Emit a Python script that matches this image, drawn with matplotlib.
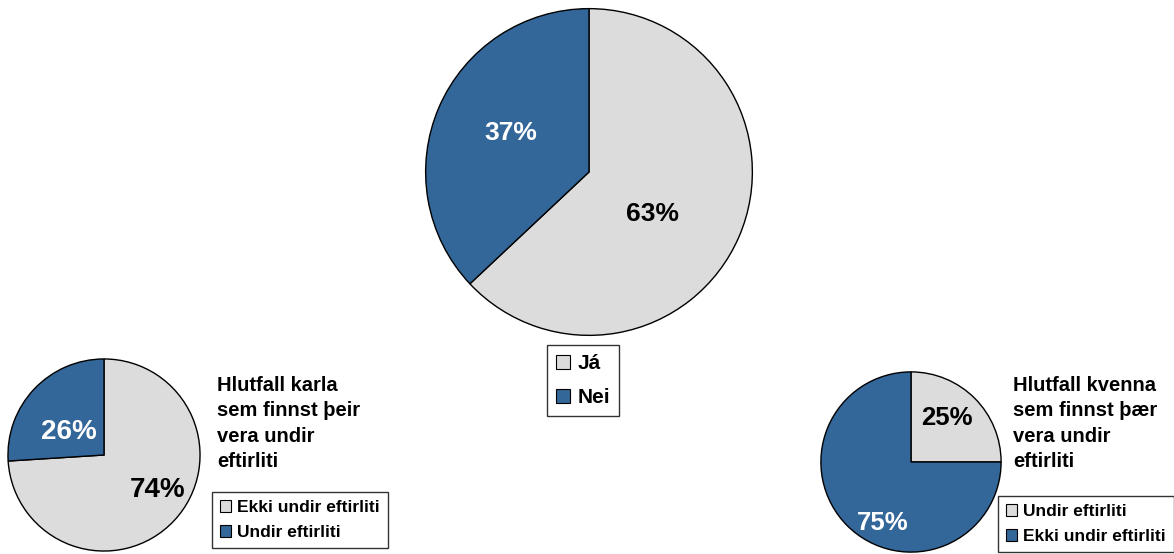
import matplotlib
matplotlib.use("Agg")
import matplotlib.pyplot as plt
from matplotlib.patches import Patch

plt.rcParams["font.family"] = ["Liberation Sans", "DejaVu Sans"]
plt.rcParams["font.weight"] = "bold"

# data
main_labels = ["Já", "Nei"]
main_values = [63, 37]

men_labels = ["Ekki undir eftirliti", "Undir eftirliti"]
men_values = [74, 26]
men_title = "Hlutfall karla\nsem finnst þeir\nvera undir\neftirliti"

women_labels = ["Undir eftirliti", "Ekki undir eftirliti"]
women_values = [25, 75]
women_title = "Hlutfall kvenna\nsem finnst þær\nvera undir\neftirliti"

GRAY = "#DCDCDC"
BLUE = "#336699"

W, H = 1174, 554
fig = plt.figure(figsize=(W / 100, H / 100), dpi=100)


def pie_axes(cx, cy, r):
    # center/radius in pixels, y from top
    return fig.add_axes([(cx - r) / W, 1 - (cy + r) / H, 2 * r / W, 2 * r / H])


def draw_pie(ax, values, colors, text_colors, fontsize):
    wedges, _, autotexts = ax.pie(
        values, colors=colors, startangle=90, counterclock=False,
        autopct="%d%%", pctdistance=0.5,
        wedgeprops=dict(edgecolor="black", linewidth=1),
        textprops=dict(fontsize=fontsize, fontweight="bold"),
    )
    for t, c in zip(autotexts, text_colors):
        t.set_color(c)
    ax.set_xlim(-1.01, 1.01)
    ax.set_ylim(-1.01, 1.01)
    ax.set_aspect("equal")
    return wedges, autotexts


def add_legend(labels, colors, x, y, fontsize, spacing):
    handles = [Patch(facecolor=c, edgecolor="black", linewidth=0.8) for c in colors]
    leg = fig.legend(handles, labels, loc="upper left", bbox_to_anchor=(x / W, 1 - y / H),
                     frameon=True, fancybox=False, fontsize=fontsize,
                     handlelength=0.65, handleheight=0.65, handletextpad=0.35,
                     borderpad=0.45, labelspacing=spacing, borderaxespad=0)
    leg.get_frame().set_edgecolor("black")
    leg.get_frame().set_linewidth(1)
    for t in leg.get_texts():
        t.set_fontweight("bold")
    return leg


# main pie
ax = pie_axes(589, 172, 165)
w, at = draw_pie(ax, main_values, [GRAY, BLUE], ["black", "white"], 19)
at[0].set_position((0.39, -0.26))
at[1].set_position((-0.48, 0.24))
add_legend(main_labels, [GRAY, BLUE], 547, 345, 15, 0.7)

# men
ax = pie_axes(104, 455, 97)
w, at = draw_pie(ax, men_values, [GRAY, BLUE], ["black", "white"], 20)
at[0].set_position((0.56, -0.36))
at[1].set_position((-0.37, 0.24))
fig.text(217 / W, 1 - 376 / H, men_title, fontsize=14.5, fontweight="bold",
         va="top", ha="left", linespacing=1.42)
add_legend(men_labels, [GRAY, BLUE], 212, 492, 12.5, 0.6)

# women
ax = pie_axes(911, 462, 91)
w, at = draw_pie(ax, women_values, [GRAY, BLUE], ["black", "white"], 18.5)
at[0].set_position((0.40, 0.49))
at[1].set_position((-0.31, -0.68))
fig.text(1013 / W, 1 - 376 / H, women_title, fontsize=14.5, fontweight="bold",
         va="top", ha="left", linespacing=1.42)
add_legend(women_labels, [GRAY, BLUE], 998, 496, 12.5, 0.6)

fig.savefig("out.png", dpi=100, facecolor="white")
